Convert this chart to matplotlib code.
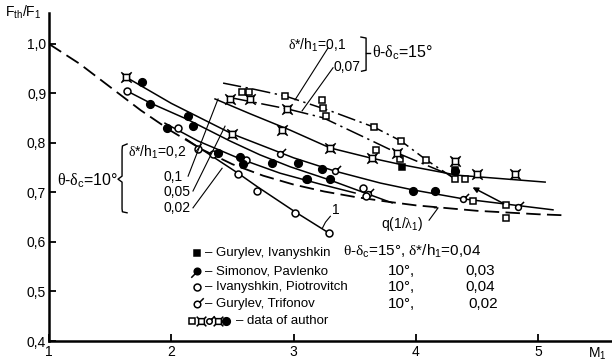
import numpy as np
import matplotlib.pyplot as plt
from matplotlib.path import Path

plt.rcParams['font.family'] = ['Liberation Sans', 'DejaVu Sans']
plt.rcParams['mathtext.fontset'] = 'custom'
plt.rcParams['mathtext.rm'] = 'Liberation Sans'
plt.rcParams['mathtext.it'] = 'Liberation Serif'
plt.rcParams['mathtext.bf'] = 'Liberation Sans:bold'

# curves: M1 -> F_th/F_1
q_M = [1.0, 1.25, 1.5, 1.75, 2.0, 2.25, 2.5, 2.75, 3.0, 3.25, 3.5, 3.75, 4.0, 4.5, 5.0, 5.21]
q_F = [1.0, 0.960, 0.913, 0.866, 0.824, 0.787, 0.757, 0.734, 0.716, 0.702, 0.691, 0.682, 0.674, 0.663, 0.656, 0.654]

# theta-delta_c = 10 deg family (solid)
c05_M = [1.63, 2.0, 2.5, 3.0, 3.34, 3.71, 3.98, 4.39, 5.12]
c05_F = [0.933, 0.880, 0.818, 0.770, 0.743, 0.719, 0.705, 0.687, 0.665]
c01_M = [2.357, 2.644, 2.971, 3.298, 3.625, 3.886, 4.336, 5.056]
c01_F = [0.889, 0.859, 0.826, 0.790, 0.770, 0.756, 0.735, 0.721]
c02_M = [1.638, 1.826, 2.128, 2.48, 2.725, 2.971, 3.298, 3.584, 3.805]
c02_F = [0.905, 0.881, 0.848, 0.804, 0.776, 0.752, 0.725, 0.699, 0.679]
c002_M = [1.948, 2.218, 2.562, 2.889, 3.216, 3.502]
c002_F = [0.840, 0.804, 0.768, 0.739, 0.717, 0.699]
c1_M = [2.12, 2.218, 2.545, 2.701, 3.011, 3.289]
c1_F = [0.808, 0.792, 0.739, 0.712, 0.661, 0.618]

# theta-delta_c = 15 deg family (dash-dot)
t01_M = [2.423, 2.668, 2.930, 3.298, 3.657, 3.878, 4.083, 4.320]
t01_F = [0.921, 0.909, 0.895, 0.865, 0.832, 0.804, 0.766, 0.727]
t007_M = [2.496, 2.946, 3.240, 3.608, 3.845, 4.320]
t007_F = [0.891, 0.869, 0.851, 0.808, 0.780, 0.731]

# experimental points
sq_M = [2.578, 2.635, 2.930, 3.232, 3.240, 3.265, 3.657, 3.674, 3.878, 3.870, 4.083, 4.320, 4.401, 4.467, 4.737, 4.737]
sq_F = [0.903, 0.903, 0.895, 0.887, 0.871, 0.855, 0.832, 0.786, 0.804, 0.768, 0.766, 0.727, 0.727, 0.683, 0.675, 0.648]
st_M = [1.630, 2.480, 2.644, 2.496, 2.905, 2.946, 3.298, 3.641, 3.845, 4.320, 4.500, 4.810]
st_F = [0.933, 0.889, 0.889, 0.818, 0.826, 0.869, 0.790, 0.770, 0.780, 0.764, 0.737, 0.737]
ct_M = [2.889, 3.339, 3.608, 4.385, 4.835]
ct_F = [0.778, 0.743, 0.697, 0.687, 0.671]
fc_M = [1.760, 1.826, 2.137, 2.177, 1.965, 2.382, 2.562, 2.586, 2.823, 3.036, 3.232, 3.110, 3.298, 3.976, 4.156, 4.320]
fc_F = [0.923, 0.879, 0.855, 0.834, 0.830, 0.780, 0.772, 0.758, 0.760, 0.760, 0.747, 0.727, 0.727, 0.703, 0.703, 0.743]
fsq_M = [3.886, 4.320]
fsq_F = [0.752, 0.745]
oc_M = [1.638, 2.055, 2.218, 2.341, 2.545, 2.611, 2.701, 3.011, 3.289, 3.101, 3.567, 3.592]
oc_F = [0.905, 0.830, 0.788, 0.778, 0.737, 0.766, 0.703, 0.659, 0.618, 0.727, 0.709, 0.693]

# custom markers
M_, L_, C_ = Path.MOVETO, Path.LINETO, Path.CLOSEPOLY
star = Path([(-1, -1), (1, -1), (1, 1), (-1, 1), (-1, -1),
             (1, 1), (1.7, 1.7), (-1, 1), (-1.7, 1.7),
             (-1, -1), (-1.7, -1.7), (1, -1), (1.7, -1.7)],
            [M_, L_, L_, L_, C_, M_, L_, M_, L_, M_, L_, M_, L_])
circ = Path.unit_circle()
circ_tail = Path.make_compound_path(circ, Path([(0.7, 0.7), (1.9, 1.9)], [M_, L_]))
fcirc_tail = Path.make_compound_path(circ, Path([(-0.7, -0.7), (-1.9, -1.9)], [M_, L_]))

fig = plt.figure(figsize=(6.12, 3.63), dpi=100)
ax = fig.add_axes([0.0801, 0.0606, 0.92, 0.9036])
ax.set_xlim(1, 5.603)
ax.set_ylim(0.4, 1.0626)
for s in ['top', 'right']:
    ax.spines[s].set_visible(False)
for s in ['left', 'bottom']:
    ax.spines[s].set_linewidth(1.8)
ax.set_xticks([1, 2, 3, 4, 5])
ax.set_yticks([0.4, 0.5, 0.6, 0.7, 0.8, 0.9, 1.0])
ax.set_yticklabels([f"{v:.1f}".replace('.', ',') for v in ax.get_yticks()])
ax.tick_params(direction='in', length=5, width=1.3, labelsize=10, pad=3)
ax.tick_params(axis='y', pad=2)

k = dict(color='black', lw=1.1)
ax.plot(q_M, q_F, color='black', lw=1.3, ls=(0, (8, 3.5)))
ax.plot(c05_M, c05_F, **k)
ax.plot(c01_M, c01_F, **k)
ax.plot(c02_M, c02_F, **k)
ax.plot(c002_M, c002_F, **k)
ax.plot(c1_M, c1_F, **k)
ax.plot(t01_M, t01_F, color='black', lw=1.1, ls=(0, (12, 3, 1.5, 3)))
ax.plot(t007_M, t007_F, color='black', lw=1.1, ls=(0, (12, 3, 1.5, 3)))
ax.annotate('', xy=(4.442, 0.713), xytext=(4.737, 0.675),
            arrowprops=dict(arrowstyle='-|>', color='black', lw=1.1, mutation_scale=8))

mk = dict(ls='none', color='black', mec='black', mew=1.1)
ax.plot(sq_M, sq_F, marker='s', ms=5, mfc='white', **mk)
ax.plot(st_M, st_F, marker=star, ms=7.5, mfc='white', **mk)
ax.plot(ct_M, ct_F, marker=circ_tail, ms=8, mfc='white', **mk)
ax.plot(oc_M, oc_F, marker='o', ms=5, mfc='white', **mk)
ax.plot(fc_M, fc_F, marker='o', ms=5.5, mfc='black', **mk)
ax.plot(fsq_M, fsq_F, marker='s', ms=5, mfc='black', **mk)

# annotations
fig.text(5 / 612, 1 - 12 / 363, r'F$_{\rm th}$/F$_1$', fontsize=10, va='center')
fig.text(588 / 612, 1 - 354 / 363, r'M$_1$', fontsize=10, va='center')

t = dict(fontsize=10, va='center')
ax.text(2.954, 0.998, r'$\delta$*/h$_1$=0,1', **t)
ax.text(3.322, 0.954, '0,07', **t)
ax.text(3.641, 0.982, r'$\theta$-$\delta_{\rm c}$=15°', fontsize=11.5, va='center')
ax.text(1.564, 0.723, r'$\theta$-$\delta_{\rm c}$=10°', fontsize=11.5, va='center', ha='right')
ax.text(1.646, 0.780, r'$\delta$*/h$_1$=0,2', **t)
ax.text(1.932, 0.731, '0,1', **t)
ax.text(1.932, 0.701, '0,05', **t)
ax.text(1.932, 0.669, '0,02', **t)
ax.text(3.715, 0.636, r'q(1/$\lambda_1$)', **t)
ax.text(3.31, 0.665, '1', **t)

ln = dict(color='black', lw=0.8)
ax.plot([2.137, 2.382], [0.733, 0.889], **ln)
ax.plot([2.177, 2.439], [0.703, 0.834], **ln)
ax.plot([2.177, 2.415], [0.669, 0.749], **ln)
ax.plot([2.205, 2.245], [0.784, 0.797], **ln)
ax.plot([3.281, 3.011], [0.992, 0.887], **ln)
ax.plot([3.322, 3.069], [0.952, 0.865], **ln)
ax.plot([4.107, 4.181, 4.150], [0.644, 0.669, 0.669], **ln)
ax.plot([3.30, 3.26, 3.235], [0.652, 0.640, 0.628], **ln)

# brackets
ax.plot([3.55, 3.592, 3.592, 3.555], [1.014, 1.012, 0.947, 0.945], color='black', lw=1.0)
ax.plot([3.592, 3.622], [0.982, 0.982], color='black', lw=1.0)
ax.plot([1.638, 1.600, 1.597, 1.597, 1.564, 1.597, 1.597, 1.600, 1.638],
        [0.798, 0.794, 0.786, 0.733, 0.727, 0.721, 0.667, 0.661, 0.659], color='black', lw=1.0)

# key
rows = [0.578, 0.541, 0.509, 0.475]
names = ['– Gurylev, Ivanyshkin', '– Simonov, Pavlenko',
         '– Ivanyshkin, Piotrovitch', '– Gurylev, Trifonov']
ax.plot(2.210, rows[0], marker='s', ms=5, mfc='black', **mk)
ax.plot(2.210, rows[1], marker=fcirc_tail, ms=9, mfc='black', **mk)
ax.plot(2.210, rows[2], marker='o', ms=5, mfc='white', **mk)
ax.plot(2.210, rows[3], marker=circ_tail, ms=9, mfc='white', **mk)
for y, nm in zip(rows, names):
    ax.text(2.276, y, nm, fontsize=9.5, va='center')
ax.text(3.404, rows[0] + 0.003, r'$\theta$-$\delta_{\rm c}$=15°, $\delta$*/h$_1$=0,04', fontsize=11, va='center')
for y, a in zip(rows[1:], ['0,03', '0,04', '0,02']):
    ax.text(3.772, y, '10°,', fontsize=11, va='center')
    ax.text(4.40 if a != '0,02' else 4.43, y, a, fontsize=11, va='center')

ky = 0.440
ax.plot(2.17, ky, marker='s', ms=5, mfc='white', **mk)
ax.plot(2.24, ky, marker=star, ms=7, mfc='white', **mk)
ax.plot(2.31, ky, marker=circ_tail, ms=7.5, mfc='white', **mk)
ax.plot(2.38, ky, marker=star, ms=7, mfc='white', **mk)
ax.plot(2.45, ky, marker='o', ms=5.5, mfc='black', **mk)
ax.text(2.53, ky, '– data of author', fontsize=9.5, va='center')

fig.savefig('out.png', dpi=100)
